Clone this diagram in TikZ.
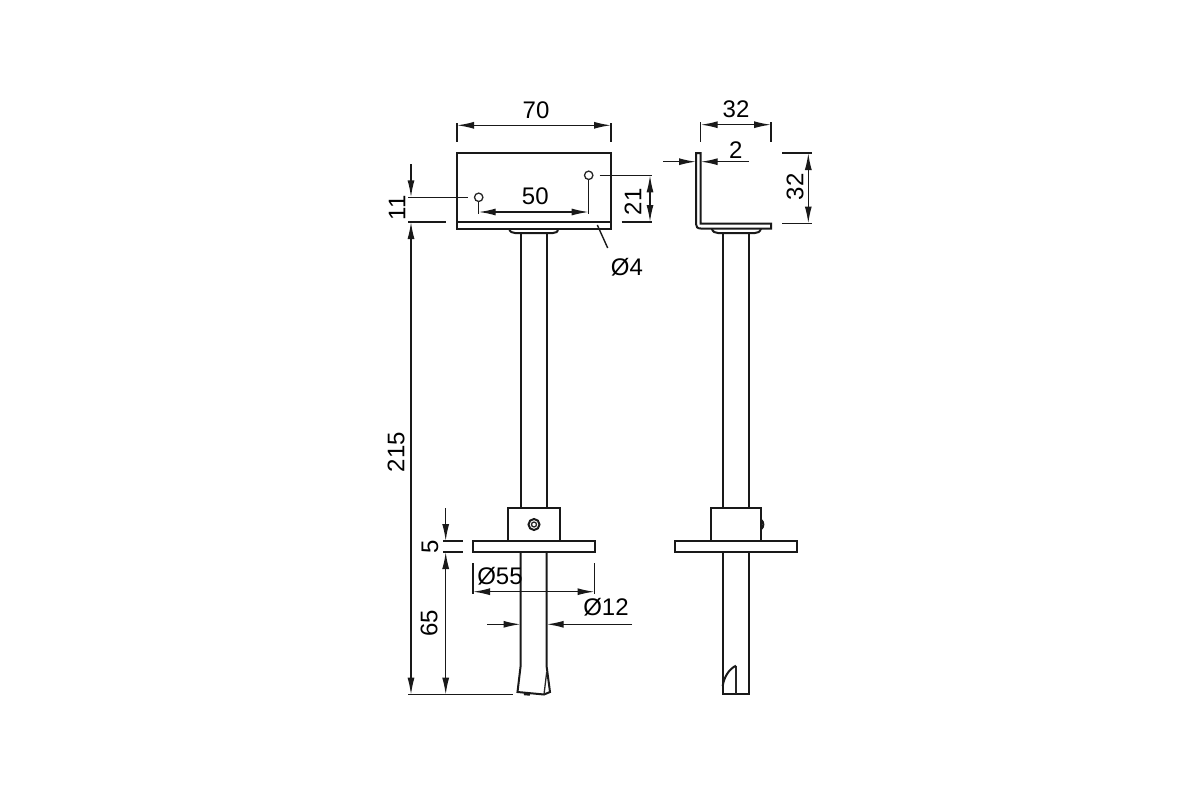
\documentclass[tikz,border=0pt]{standalone}
\usepackage{fontspec}
\setmainfont{Liberation Sans}
\usetikzlibrary{arrows.meta}
\tikzset{
    part/.style={line width=2pt, black!90},
    thinpart/.style={line width=1.3pt, black!85},
    dimline/.style={line width=1.4pt, black!90},
    dimarrow/.style={dimline, -{Latex[length=17pt, width=7pt]}},
    dimboth/.style={dimline, {Latex[length=17pt, width=7pt]}-{Latex[length=17pt, width=7pt]}},
    dimtext/.style={font=\fontsize{24}{24}\selectfont, inner sep=0pt},
}

\begin{document}
\begin{tikzpicture}[x=1pt, y=-1pt]
    \useasboundingbox (0, 0) rectangle (1200, 800);

    % front view
    \draw [part] (457, 153) rectangle (611, 228.5);
    \draw [part] (457, 222) -- (611, 222);
    \draw [part] (509, 228.5) .. controls (510, 232) and (512, 233) .. (515, 233) -- (553, 233) .. controls (556, 233) and (558, 232) .. (558, 228.5);
    \draw [part] (520.5, 233) -- (520.5, 507.5);
    \draw [part] (546.7, 233) -- (546.7, 507.5);
    \draw [part] (508, 541) -- (508, 507.5) -- (559.5, 507.5) -- (559.5, 541);
    \draw [part] (473, 541) rectangle (594.5, 552);
    \draw [part] (520.5, 552) -- (520.5, 667) -- (517.5, 692) -- (544, 694.5) -- (550, 692) -- (546.7, 667) -- (546.7, 552);
    \draw [thinpart] (546.7, 672) -- (544, 694.5);
    \draw [line width=2.4pt, black!90] (524, 694) -- (530, 694.5);
    \draw [part] (534, 524.5) circle (5.5);
    \draw [thinpart] (534, 524.5) circle (2.5);
    \draw [thinpart] (478.7, 197.3) circle (4.2);
    \draw [thinpart] (588.7, 175.3) circle (4.2);

    % side view
    \draw [part] (771, 223.5) -- (700.7, 223.5) -- (700.7, 153) -- (696, 153) -- (696, 224) .. controls (696, 227) and (697.5, 228.5) .. (700.7, 228.5) -- (771, 228.5) -- cycle;
    \draw [part] (711.7, 228.5) .. controls (713, 232) and (715, 233) .. (718, 233) -- (755, 233) .. controls (758, 233) and (760, 232) .. (761, 228.5);
    \draw [part] (722.7, 233) -- (722.7, 507.5);
    \draw [part] (749, 233) -- (749, 507.5);
    \draw [part] (710.7, 541) -- (710.7, 507.5) -- (761.3, 507.5) -- (761.3, 541);
    \draw [part] (675.3, 541) rectangle (797, 552);
    \draw [part] (722.7, 552) -- (722.7, 693.7) -- (749, 693.7) -- (749, 552);
    \draw [thinpart] (736, 665.7) -- (736, 693.7);
    \draw [part] (736, 665.7) .. controls (729, 669) and (724, 677) .. (722.7, 686);
    \draw [part] (761.3, 520) .. controls (764, 522) and (764, 527) .. (761.3, 529);

    % named points of the dimensions
    \coordinate (w1) at (457, 125.3);
    \coordinate (w2) at (611, 125.3);
    \coordinate (p1) at (478.7, 212);
    \coordinate (p2) at (588.7, 212);
    \coordinate (s1) at (700.7, 124.7);
    \coordinate (s2) at (771, 124.7);
    \coordinate (t0) at (663, 161.7);
    \coordinate (t1) at (696, 161.7);
    \coordinate (t2) at (700.7, 161.7);
    \coordinate (t3) at (749, 161.7);
    \coordinate (h1) at (808.3, 153);
    \coordinate (h2) at (808.3, 223.5);
    \coordinate (e1) at (650, 175.3);
    \coordinate (e2) at (650, 222);
    \coordinate (a0) at (411, 164);
    \coordinate (a1) at (411, 197.3);
    \coordinate (a2) at (411, 222);
    \coordinate (a3) at (411, 694.7);
    \coordinate (b0) at (445.7, 508);
    \coordinate (b1) at (445.7, 541);
    \coordinate (b2) at (445.7, 552);
    \coordinate (b3) at (445.7, 694.7);
    \coordinate (d1) at (473, 591.7);
    \coordinate (d2) at (594.5, 591.7);
    \coordinate (r0) at (487, 624.3);
    \coordinate (r1) at (520.5, 624.3);
    \coordinate (r2) at (546.7, 624.3);
    \coordinate (r3) at (632, 624.3);

    % dimension lines
    \draw [dimboth] (w1) -- (w2);
    \draw [dimboth] (p1) -- (p2);
    \draw [dimboth] (s1) -- (s2);
    \draw [dimarrow] (t0) -- (t1);
    \draw [dimarrow] (t3) -- (t2);
    \draw [dimboth] (h1) -- (h2);
    \draw [dimboth] (e1) -- (e2);
    \draw [dimarrow] (a0) -- (a1);
    \draw [dimboth] (a2) -- (a3);
    \draw [dimarrow] (b0) -- (b1);
    \draw [dimboth] (b2) -- (b3);
    \draw [dimboth] (d1) -- (d2);
    \draw [dimarrow] (r0) -- (r1);
    \draw [dimarrow] (r3) -- (r2);

    % extension lines
    \draw [dimline] (457, 123) -- (457, 142);
    \draw [dimline] (611, 123) -- (611, 142);
    \draw [dimline] (478.7, 202) -- (478.7, 214);
    \draw [dimline] (588.7, 180) -- (588.7, 214);
    \draw [dimline] (700.7, 122) -- (700.7, 142);
    \draw [dimline] (771, 122) -- (771, 142);
    \draw [dimline] (782, 153) -- (811.7, 153);
    \draw [dimline] (782, 223.5) -- (811.7, 223.5);
    \draw [dimline] (599.5, 175.3) -- (652, 175.3);
    \draw [dimline] (621.7, 222) -- (652, 222);
    \draw [dimline] (408, 197.3) -- (467.7, 197.3);
    \draw [dimline] (408, 222) -- (446, 222);
    \draw [dimline] (408, 694.7) -- (513, 694.7);
    \draw [dimline] (443, 541) -- (462.7, 541);
    \draw [dimline] (443, 552) -- (462.7, 552);
    \draw [dimline] (473, 563) -- (473, 594);
    \draw [dimline] (594.5, 563) -- (594.5, 594);
    \draw [dimline] (597.3, 225) -- (607.7, 248);

    % labels
    \node (l70) [dimtext] at (536, 110) {70};
    \node (l50) [dimtext] at (535.3, 196) {50};
    \node (l21) [dimtext, rotate=90] at (633, 201.7) {21};
    \node (l11) [dimtext, rotate=90] at (397, 208) {11};
    \node (lphi4) [dimtext] at (627, 267) {Ø4};
    \node (l215) [dimtext, rotate=90] at (396, 452) {215};
    \node (l5) [dimtext, rotate=90] at (430, 546.7) {5};
    \node (l65) [dimtext, rotate=90] at (429, 623) {65};
    \node (lphi55) [dimtext] at (500, 576) {Ø55};
    \node (lphi12) [dimtext] at (606, 607.7) {Ø12};
    \node (ls32) [dimtext] at (736, 109) {32};
    \node (lt2) [dimtext] at (735.7, 150) {2};
    \node (lh32) [dimtext, rotate=90] at (795, 186.7) {32};
\end{tikzpicture}
\end{document}
